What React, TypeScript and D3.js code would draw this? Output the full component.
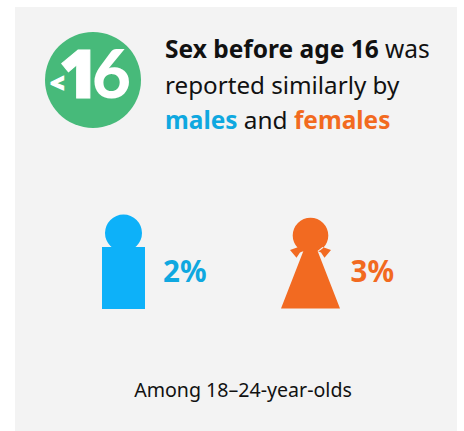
import React from "react";
import * as d3 from "d3";

const sexes = ["Males", "Females"];
const percentValues = [2, 3];
const sexColors = ["#0DB1F9", "#F26A21"];
const labelColors = ["#0FA8E0", "#F26A1F"];
const headline = "Sex before age 16";
const subtitle = "Among 18–24-year-olds";

const FONT = "'Noto Sans', sans-serif";

// Horizontal anchor of each pictogram
const figureX = d3.scaleOrdinal<string, number>().domain(sexes).range([123.5, 310.5]);

function malePath(cx: number) {
  const p = d3.path();
  p.rect(cx - 21.5, 247, 43, 62);
  p.moveTo(cx + 18.5, 233);
  p.arc(cx, 233, 18.5, 0, Math.PI * 2);
  return p.toString();
}

function femalePath(cx: number) {
  const p = d3.path();
  const skirt = d3.line()([
    [cx - 29.5, 308.4],
    [cx - 7.5, 252],
    [cx + 7.5, 252],
    [cx + 29.5, 308.4],
  ]);
  // Small triangular arms on either side of the neck
  const arm = (side: number) =>
    d3.line()([
      [cx + side * 20.5, 250],
      [cx + side * 12, 247],
      [cx + side * 7, 251],
      [cx + side * 10.5, 252.5],
      [cx + side * 14, 257.7],
    ]);
  p.moveTo(cx + 17.8, 235.5);
  p.arc(cx, 235.5, 17.8, 0, Math.PI * 2);
  return `${p.toString()}${skirt}Z${arm(-1)}Z${arm(1)}Z`;
}

export default function App() {
  return (
    <svg
      width={464}
      height={431}
      style={{ position: "absolute", left: 0, top: 0, display: "block" }}
      fontFamily={FONT}
    >
      <rect width={464} height={431} fill="#fff" />
      <rect x={15} y={7} width={442} height={424} fill="#F3F3F3" />

      <circle cx={93} cy={80} r={48} fill="#47BA7A" />
      <text
        x={50}
        y={92}
        fontSize={25}
        fontWeight={900}
        fill="#fff"
        stroke="#fff"
        strokeWidth={1.2}
      >
        {"<"}
      </text>
      <text fontSize={67} fontWeight={900} fill="#fff">
        <tspan x={59} y={98} stroke="#fff" strokeWidth={1}>1</tspan>
        <tspan x={92} y={98} fontFamily="Lato, sans-serif">6</tspan>
      </text>

      <text x={165} y={58} fontSize={24.5} fill="#111">
        <tspan fontWeight={700}>{headline}</tspan> was
      </text>
      <text x={165} y={93.5} fontSize={24.2} fill="#111">
        reported similarly by
      </text>
      <text x={165} y={129} fontSize={24.4} fill="#111">
        <tspan fontWeight={700} fill={labelColors[0]}>males</tspan> and{" "}
        <tspan fontWeight={700} fill={labelColors[1]}>females</tspan>
      </text>

      <path d={malePath(figureX(sexes[0]))} fill={sexColors[0]} />
      <path d={femalePath(figureX(sexes[1]))} fill={sexColors[1]} />

      {sexes.map((s, i) => (
        <text
          key={s}
          x={figureX(s) + (i === 0 ? 39.5 : 40)}
          y={282}
          fontSize={29.5}
          fontWeight={700}
          fill={labelColors[i]}
        >
          {percentValues[i]}%
        </text>
      ))}

      <text x={243} y={397} fontSize={19.6} fill="#111" textAnchor="middle">
        {subtitle}
      </text>
    </svg>
  );
}
